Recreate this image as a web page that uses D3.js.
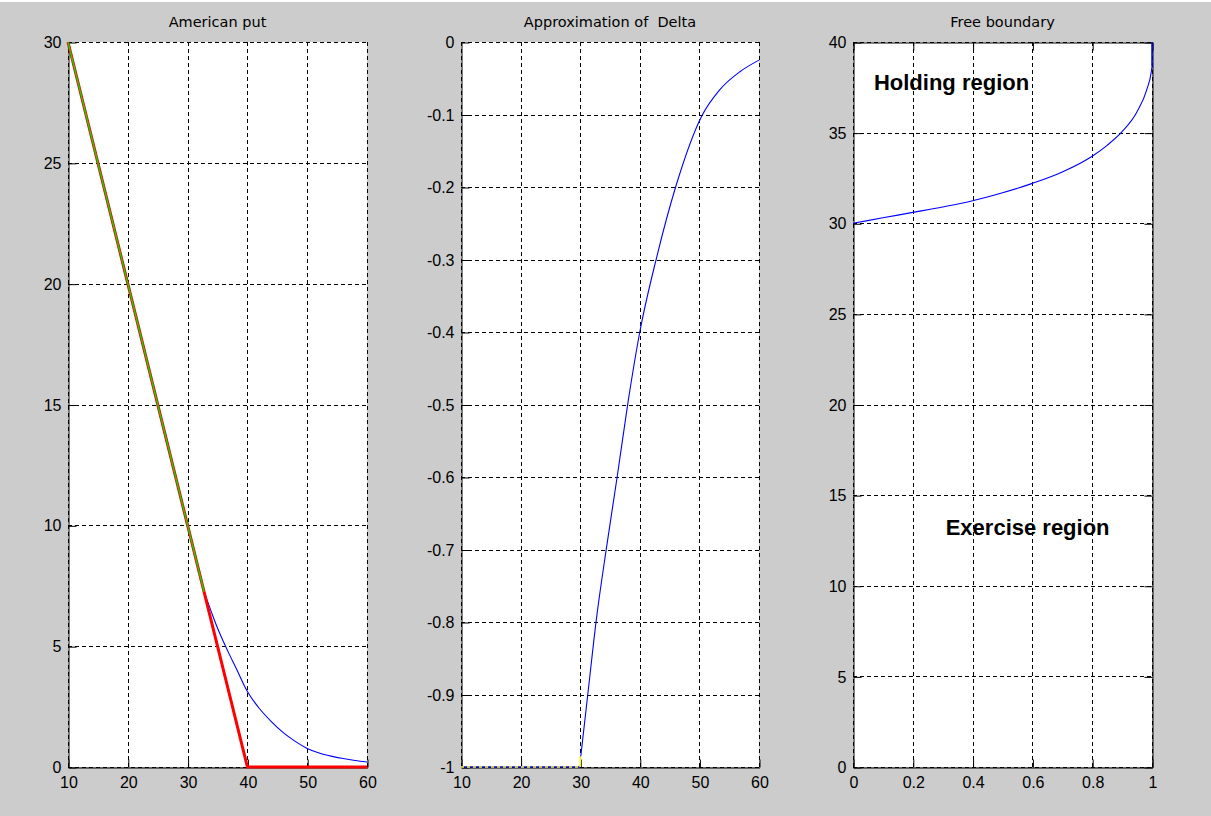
<!DOCTYPE html>
<html>
<head>
<meta charset="utf-8">
<script src="https://cdn.jsdelivr.net/npm/d3@7"></script>
<style>
	body { margin: 0; background: #cccccc; }
	svg { display: block; }
</style>
</head>
<body>
<div id="chart"></div>
<script>
// American put: value in continuation region
const putS = [32.75, 34, 35, 36, 37, 38, 40, 42, 44, 46, 48, 50, 52, 54, 56, 58, 60];
const putV = [7.25, 6.4, 5.75, 5.18, 4.65, 4.15, 3.12, 2.42, 1.88, 1.42, 1.06, 0.77, 0.58, 0.45, 0.35, 0.27, 0.21];
// payoff max(K - S, 0)
const payoffS = [10, 40, 60];
const payoffV = [30, 0, 0];
// exercise region part of the value
const exerciseS = [10, 32.75];
const exerciseV = [30, 7.25];

// Delta approximation
const flatS = [10, 30];
const flatV = [-1, -1];
const jumpS = [30, 30];
const jumpV = [-1, -0.985];
const deltaS = [30.1, 31.3, 32.7, 34.4, 36.2, 38.0, 40.0, 42.8, 46.05, 50.4, 53.4, 56.8, 60];
const deltaV = [-0.985, -0.898, -0.797, -0.698, -0.6, -0.498, -0.4, -0.298, -0.199, -0.102, -0.066, -0.041, -0.025];

// Free boundary
const boundT = [0, 0.1, 0.2, 0.3, 0.4, 0.5, 0.6, 0.7, 0.8, 0.85, 0.9, 0.95, 0.982, 0.9985, 1];
const boundB = [30, 30.3, 30.6, 30.9, 31.24, 31.68, 32.2, 32.83, 33.7, 34.3, 35.05, 36.15, 37.35, 38.45, 38.65];
const boundTopT = [1, 1];
const boundTopB = [38.65, 40];

const regionLabels = ['Holding region', 'Exercise region'];
const regionT = [0.07, 0.31];
const regionB = [37.35, 12.8];

const titles = ['American put', 'Approximation of  Delta', 'Free boundary'];
const putXTicks = [10, 20, 30, 40, 50, 60];
const putYTicks = [0, 5, 10, 15, 20, 25, 30];
const deltaYTicks = [-1, -0.9, -0.8, -0.7, -0.6, -0.5, -0.4, -0.3, -0.2, -0.1, 0];
const boundXTicks = [0, 0.2, 0.4, 0.6, 0.8, 1];
const boundYTicks = [0, 5, 10, 15, 20, 25, 30, 35, 40];

const zip = (xs, ys) => xs.map((x, i) => [x, ys[i]]);

const W = 1211;
const H = 816;
const plotTop = 42;
const plotBottom = 767;

const svg = d3.select('#chart').append('svg').attr('width', W).attr('height', H);

svg.append('rect').attr('width', W).attr('height', H).attr('fill', '#cccccc');
svg.append('rect').attr('width', W).attr('height', 2).attr('fill', '#ffffff');

const fmt = (d) => String(+d.toFixed(1));

function panel(opts) {
	const x = d3.scaleLinear().domain(opts.xDomain).range([opts.left, opts.right]);
	const y = d3.scaleLinear().domain(opts.yDomain).range([plotBottom, plotTop]);
	const g = svg.append('g');

	g.append('rect')
		.attr('x', opts.left)
		.attr('y', plotTop)
		.attr('width', opts.right - opts.left)
		.attr('height', plotBottom - plotTop)
		.attr('fill', '#ffffff');

	// grid
	g.selectAll('.vgrid')
		.data(opts.xTicks)
		.enter()
		.append('line')
		.attr('x1', (d) => Math.round(x(d)) + 0.5)
		.attr('x2', (d) => Math.round(x(d)) + 0.5)
		.attr('y1', plotTop)
		.attr('y2', plotBottom)
		.style('stroke', '#000')
		.style('stroke-dasharray', '4, 3');

	g.selectAll('.hgrid')
		.data(opts.yTicks)
		.enter()
		.append('line')
		.attr('y1', (d) => Math.round(y(d)) + 0.5)
		.attr('y2', (d) => Math.round(y(d)) + 0.5)
		.attr('x1', opts.left)
		.attr('x2', opts.right)
		.style('stroke', '#000')
		.style('stroke-dasharray', '4, 3');

	const xAxis = d3.axisBottom(x).tickValues(opts.xTicks).tickFormat(fmt).tickSizeInner(-8).tickSizeOuter(0).tickPadding(9);
	const yAxis = d3.axisLeft(y).tickValues(opts.yTicks).tickFormat(fmt).tickSizeInner(-8).tickSizeOuter(0).tickPadding(7);

	g.append('g').attr('transform', `translate(0.5, ${plotBottom + 0.5})`).call(xAxis);
	g.append('g').attr('transform', `translate(${opts.left + 0.5}, 0.5)`).call(yAxis);

	if (opts.box) {
		g.append('g').attr('transform', `translate(0.5, ${plotTop + 0.5})`)
			.call(d3.axisTop(x).tickValues(opts.xTicks).tickFormat('').tickSizeInner(-8).tickSizeOuter(0));
		g.append('g').attr('transform', `translate(${opts.right + 0.5}, 0.5)`)
			.call(d3.axisRight(y).tickValues(opts.yTicks).tickFormat('').tickSizeInner(-8).tickSizeOuter(0));
	}

	g.selectAll('.domain, .tick line').style('stroke', '#000');
	g.selectAll('.tick text')
		.style('font-family', '"Liberation Sans", Arial, sans-serif')
		.style('font-size', '16px')
		.style('fill', '#000');

	// title
	g.append('text')
		.attr('x', (opts.left + opts.right) / 2)
		.attr('y', 27)
		.attr('text-anchor', 'middle')
		.style('font-family', '"DejaVu Sans", sans-serif')
		.style('font-size', '14.5px')
		.style('fill', '#000')
		.style('white-space', 'pre')
		.text(opts.title);

	return { g, x, y };
}

function drawLine(p, pts, color, width, curve, dash) {
	const line = d3.line().x((d) => p.x(d[0])).y((d) => p.y(d[1])).curve(curve || d3.curveLinear);
	p.g.append('path')
		.data([pts])
		.attr('d', line)
		.style('fill', 'none')
		.style('stroke', color)
		.style('stroke-width', width)
		.style('stroke-dasharray', dash || null);
}

// Panel 1
const p1 = panel({ left: 68, right: 367, xDomain: [10, 60], yDomain: [0, 30], xTicks: putXTicks, yTicks: putYTicks, title: titles[0] });
drawLine(p1, zip(putS, putV), '#0000ff', 1.1, d3.curveMonotoneX);
drawLine(p1, zip(payoffS, payoffV), '#ff0000', 3);
drawLine(p1, zip(exerciseS, exerciseV), '#00dd00', 1.4);

// Panel 2
const p2 = panel({ left: 461, right: 759, xDomain: [10, 60], yDomain: [-1, 0], xTicks: putXTicks, yTicks: deltaYTicks, title: titles[1] });
drawLine(p2, zip(flatS, flatV), '#0000ff', 1.5);
drawLine(p2, zip(flatS, flatV), '#ffff00', 1.5, null, '3, 3');
drawLine(p2, zip(jumpS, jumpV), '#ffff00', 1.5);
drawLine(p2, zip(deltaS, deltaV), '#0000ff', 1.1, d3.curveMonotoneX);

// Panel 3
const p3 = panel({ left: 853, right: 1152, xDomain: [0, 1], yDomain: [0, 40], xTicks: boundXTicks, yTicks: boundYTicks, title: titles[2], box: true });
drawLine(p3, zip(boundT, boundB), '#0000ff', 1.1, d3.curveMonotoneX);
drawLine(p3, zip(boundTopT, boundTopB), '#0000ff', 1.5);

p3.g.selectAll('.region')
	.data(regionLabels)
	.enter()
	.append('text')
	.attr('x', (d, i) => p3.x(regionT[i]))
	.attr('y', (d, i) => p3.y(regionB[i]))
	.style('font-family', '"Liberation Sans", Arial, sans-serif')
	.style('font-size', '22px')
	.style('font-weight', 'bold')
	.style('fill', '#000')
	.text((d) => d);
</script>
</body>
</html>
